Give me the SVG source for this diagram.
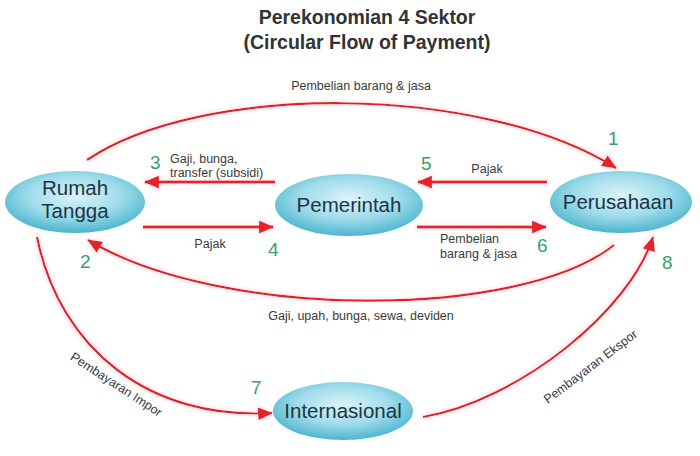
<svg xmlns="http://www.w3.org/2000/svg" width="700" height="456" viewBox="0 0 700 456">
<style>
.title{font-family:"Liberation Sans",Arial,sans-serif;font-weight:bold;font-size:19.5px;fill:#333;text-anchor:middle}
.node{fill:url(#ng)}
.nt{font-family:"Liberation Sans",Arial,sans-serif;font-size:20.5px;fill:#1d3444;text-anchor:middle}
.lbl{font-family:"Liberation Sans",Arial,sans-serif;font-size:12.5px;fill:#3a3a3a}
.num{font-family:"Liberation Sans",Arial,sans-serif;font-size:19px;fill:#3a9e6e}
.flow{fill:none;stroke:#dc2028;stroke-width:2.2;filter:url(#glow)}
.straight{fill:none;stroke:#e0262d;stroke-width:3;filter:url(#glow)}
</style>
<defs>
<radialGradient id="ng" cx="50%" cy="40%" r="60%">
<stop offset="0" stop-color="#dcf4f8"/>
<stop offset="0.55" stop-color="#9fdcea"/>
<stop offset="1" stop-color="#4cb5cf"/>
</radialGradient>
<filter id="glow" filterUnits="userSpaceOnUse" x="0" y="0" width="700" height="456">
<feMorphology in="SourceGraphic" operator="dilate" radius="1.5" result="d"/>
<feGaussianBlur in="d" stdDeviation="1.2" result="b"/>
<feColorMatrix in="b" type="matrix" values="0 0 0 0 1  0 0 0 0 0.75  0 0 0 0 0.78  0 0 0 0.6 0" result="c"/>
<feMerge><feMergeNode in="c"/><feMergeNode in="SourceGraphic"/></feMerge>
</filter>
<marker id="ah" viewBox="0 0 14 12" refX="13" refY="6" markerWidth="15" markerHeight="13" markerUnits="userSpaceOnUse" orient="auto">
<path d="M0,0 L14,6 L0,12 Z" fill="#e3232a"/>
</marker>
</defs>
<rect width="700" height="456" fill="#fff"/>
<text class="title" x="367" y="24">Perekonomian 4 Sektor</text>
<text class="title" x="367" y="49">(Circular Flow of Payment)</text>

<g id="connectors">
<path class="flow" d="M87,160 C200,83 480,83 616,168" marker-end="url(#ah)"/>
<path class="flow" d="M614,245 C520,320 220,320 88,240" marker-end="url(#ah)"/>
<path class="straight" d="M275,182 L145,182" marker-end="url(#ah)"/>
<path class="straight" d="M143,227 L273,227" marker-end="url(#ah)"/>
<path class="straight" d="M547,182 L418,182" marker-end="url(#ah)"/>
<path class="straight" d="M417,227 L546,227" marker-end="url(#ah)"/>
<path class="flow" d="M37,237 C60,350 150,420 272,413" marker-end="url(#ah)"/>
<path class="flow" d="M423,417 C520,400 630,310 653,237" marker-end="url(#ah)"/>
</g>

<g id="labels">
<text class="lbl" x="361" y="90" text-anchor="middle">Pembelian barang &amp; jasa</text>
<text class="lbl" x="170" y="163">Gaji, bunga,</text>
<text class="lbl" x="170" y="177">transfer (subsidi)</text>
<text class="lbl" x="210" y="248" text-anchor="middle">Pajak</text>
<text class="lbl" x="487" y="173" text-anchor="middle">Pajak</text>
<text class="lbl" x="440" y="243">Pembelian</text>
<text class="lbl" x="440" y="258">barang &amp; jasa</text>
<text class="lbl" x="361" y="320" text-anchor="middle">Gaji, upah, bunga, sewa, deviden</text>
<text class="lbl" x="114" y="388" text-anchor="middle" transform="rotate(33 114 388)">Pembayaran Impor</text>
<text class="lbl" x="593" y="370" text-anchor="middle" transform="rotate(-37 593 370)">Pembayaran Ekspor</text>
<text class="num" x="608" y="145">1</text>
<text class="num" x="80" y="268">2</text>
<text class="num" x="150" y="169">3</text>
<text class="num" x="268" y="256">4</text>
<text class="num" x="421" y="170">5</text>
<text class="num" x="537" y="252">6</text>
<text class="num" x="251" y="394">7</text>
<text class="num" x="662" y="269">8</text>
</g>

<g id="rumah-tangga">
<ellipse class="node" cx="75" cy="202" rx="70" ry="31"/>
<text class="nt" x="75" y="195">Rumah</text>
<text class="nt" x="75" y="218">Tangga</text>
</g>
<g id="pemerintah">
<ellipse class="node" cx="349" cy="205" rx="74" ry="31"/>
<text class="nt" x="349" y="212">Pemerintah</text>
</g>
<g id="perusahaan">
<ellipse class="node" cx="621" cy="202" rx="71" ry="31"/>
<text class="nt" x="618" y="209">Perusahaan</text>
</g>
<g id="internasional">
<ellipse class="node" cx="343" cy="411" rx="70" ry="29"/>
<text class="nt" x="343" y="418">Internasional</text>
</g>
</svg>
